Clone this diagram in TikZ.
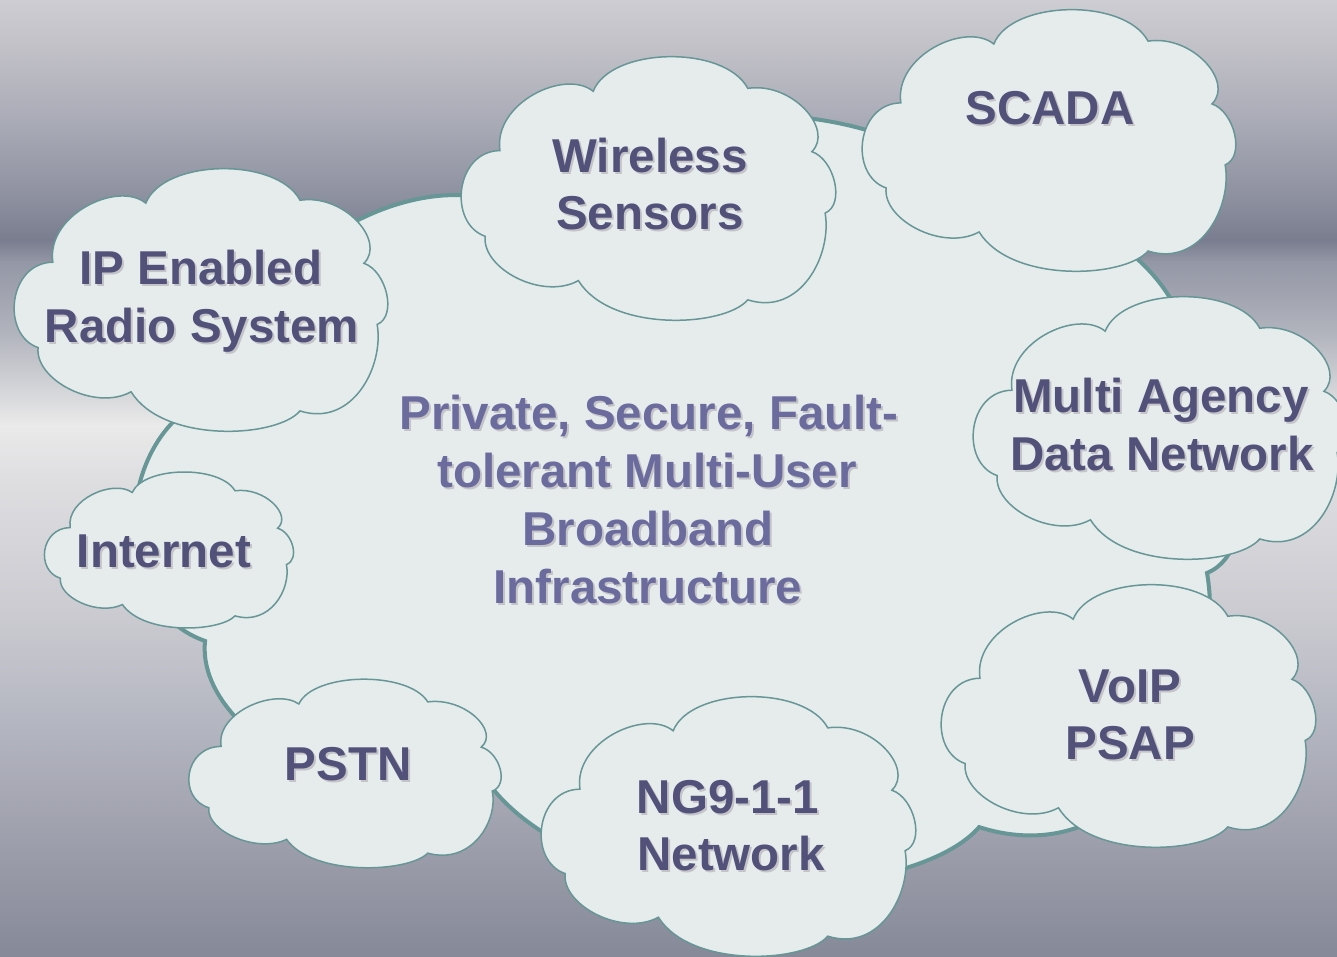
\documentclass[tikz,border=0pt]{standalone}
\usepackage{fontspec}
\setmainfont{Liberation Sans}

\definecolor{cloudfill}{RGB}{230,236,236}
\definecolor{cloudline}{RGB}{102,150,150}
\definecolor{labelink}{RGB}{81,81,122}
\definecolor{coreink}{RGB}{107,107,158}
\definecolor{shadowgray}{RGB}{196,196,200}

% metallic backdrop, top to bottom
\definecolor{bgA}{RGB}{206,205,211}
\definecolor{bgB}{RGB}{193,192,199}
\definecolor{bgC}{RGB}{166,168,180}
\definecolor{bgD}{RGB}{140,143,158}
\definecolor{bgE}{RGB}{121,125,143}
\definecolor{bgF}{RGB}{148,151,165}
\definecolor{bgG}{RGB}{176,178,188}
\definecolor{bgH}{RGB}{234,234,234}
\definecolor{bgI}{RGB}{222,221,224}
\definecolor{bgJ}{RGB}{211,210,215}
\definecolor{bgK}{RGB}{204,203,209}
\definecolor{bgL}{RGB}{184,186,196}
\definecolor{bgM}{RGB}{156,157,170}
\definecolor{bgN}{RGB}{133,137,152}

% cloud outline in a unit box (y pointing down), eight bumps
\newcommand\cloudat[5]{%
  \begin{scope}[shift={(#2,#3)},xscale=#4,yscale=#5]
    \path[#1] (0.108,0.358)
      .. controls (0.09,0.18) and (0.28,0.05) .. (0.354,0.136)
      .. controls (0.40,-0.03) and (0.70,-0.04) .. (0.762,0.125)
      .. controls (0.88,0.10) and (0.99,0.28) .. (0.931,0.362)
      .. controls (0.99,0.39) and (1.02,0.56) .. (0.966,0.592)
      .. controls (0.985,0.75) and (0.90,0.98) .. (0.762,0.917)
      .. controls (0.70,1.02) and (0.40,1.04) .. (0.315,0.845)
      .. controls (0.22,0.92) and (0.06,0.80) .. (0.069,0.679)
      .. controls (-0.03,0.63) and (-0.01,0.36) .. (0.108,0.358) -- cycle;
  \end{scope}}

% text with a soft grey drop shadow
\newcommand\shadowlabel[5]{%
  \node[lbl,text=shadowgray] at ({#2+2},{#3+2}) {#5};
  \node[lbl,text=#4] (#1) at (#2,#3) {#5};}

\begin{document}
\begin{tikzpicture}[x=1pt,y=-1pt,
  lbl/.style={anchor=base,inner sep=0pt,font=\fontsize{47.5}{57}\selectfont\bfseries},
  bigcloud/.style={fill=cloudfill,draw=cloudline,line width=4pt},
  smallcloud/.style={fill=cloudfill,draw=cloudline,line width=1.5pt}]

\useasboundingbox (0,0) rectangle (1337,957);

% background bands
\shade[top color=bgA,bottom color=bgB] (0,0) rectangle (1337,50.5);
\shade[top color=bgB,bottom color=bgC] (0,50) rectangle (1337,130.5);
\shade[top color=bgC,bottom color=bgD] (0,130) rectangle (1337,200.5);
\shade[top color=bgD,bottom color=bgE] (0,200) rectangle (1337,240.5);
\shade[top color=bgE,bottom color=bgF] (0,240) rectangle (1337,262.5);
\shade[top color=bgF,bottom color=bgG] (0,262) rectangle (1337,330.5);
\shade[top color=bgG,bottom color=bgH] (0,330) rectangle (1337,425.5);
\shade[top color=bgH,bottom color=bgI] (0,425) rectangle (1337,480.5);
\shade[top color=bgI,bottom color=bgJ] (0,480) rectangle (1337,560.5);
\shade[top color=bgJ,bottom color=bgK] (0,560) rectangle (1337,610.5);
\shade[top color=bgK,bottom color=bgL] (0,610) rectangle (1337,700.5);
\shade[top color=bgL,bottom color=bgM] (0,700) rectangle (1337,850.5);
\shade[top color=bgM,bottom color=bgN] (0,850) rectangle (1337,957);

% central network cloud
\cloudat{bigcloud}{128}{110}{1117}{782}

% surrounding clouds
\cloudat{smallcloud}{860}{8}{378}{265}
\cloudat{smallcloud}{459}{55}{379}{267}
\cloudat{smallcloud}{12}{167}{378}{266}
\cloudat{smallcloud}{43}{471}{252}{158}
\cloudat{smallcloud}{187}{678}{316}{191}
\cloudat{smallcloud}{539}{695}{379}{263}
\cloudat{smallcloud}{939}{583}{379}{266}
\cloudat{smallcloud}{971}{295}{379}{266}

% labels
\shadowlabel{scada}{1050}{125}{labelink}{SCADA}
\shadowlabel{wsA}{650}{173}{labelink}{Wireless}
\shadowlabel{wsB}{650}{230}{labelink}{Sensors}
\shadowlabel{ipA}{201}{285}{labelink}{IP Enabled}
\shadowlabel{ipB}{202}{342}{labelink}{Radio System}
\shadowlabel{inet}{164}{567}{labelink}{Internet}
\shadowlabel{pstn}{348}{780}{labelink}{PSTN}
\shadowlabel{ngA}{728}{813}{labelink}{NG9-1-1}
\shadowlabel{ngB}{731}{870}{labelink}{Network}
\shadowlabel{voA}{1130}{702}{labelink}{VoIP}
\shadowlabel{voB}{1130}{759}{labelink}{PSAP}
\shadowlabel{maA}{1161}{412}{labelink}{Multi Agency}
\shadowlabel{maB}{1162}{470}{labelink}{Data Network}

\shadowlabel{coreA}{649}{429}{coreink}{Private, Secure, Fault-}
\shadowlabel{coreB}{647}{487}{coreink}{tolerant Multi-User}
\shadowlabel{coreC}{648}{545}{coreink}{Broadband}
\shadowlabel{coreD}{648}{603}{coreink}{Infrastructure}

\end{tikzpicture}
\end{document}
